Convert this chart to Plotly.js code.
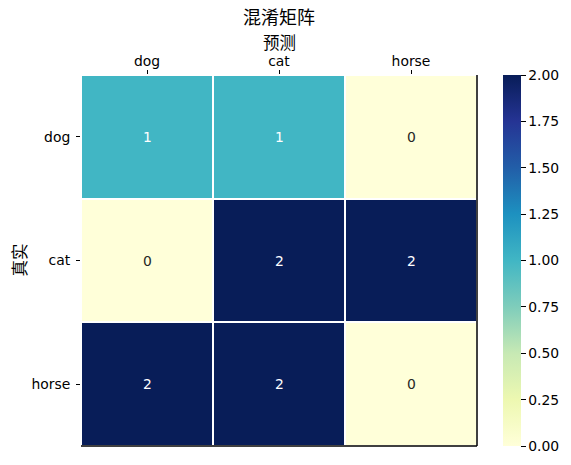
<!DOCTYPE html>
<html>
<head>
<meta charset="utf-8">
<script src="https://cdn.plot.ly/plotly-3.0.1.min.js"></script>
<style>html,body{margin:0;padding:0;background:#fff;}</style>
</head>
<body>
<div id="chart" style="width:571px;height:465px;"></div>
<script>
const predLabels = ['dog', 'cat', 'horse'];
const trueLabels = ['dog', 'cat', 'horse'];
const matrix = [
  [1, 1, 0],
  [0, 2, 2],
  [2, 2, 0]
];
const titleText = '混淆矩阵';
const xTitle = '预测';
const yTitle = '真实';

const ylgnbu = [
  [0.000, '#ffffd9'], [0.125, '#edf8b1'], [0.250, '#c7e9b4'],
  [0.375, '#7fcdbb'], [0.500, '#41b6c4'], [0.625, '#1d91c0'],
  [0.750, '#225ea8'], [0.875, '#253494'], [1.000, '#081d58']
];
const vmax = 2;

const annotations = [];
trueLabels.forEach((t, i) => {
  predLabels.forEach((p, j) => {
    const v = matrix[i][j];
    annotations.push({
      x: p, y: t, xref: 'x', yref: 'y', text: String(v), showarrow: false,
      font: {family: 'DejaVu Sans', size: 13.9, color: v / vmax > 0.4 ? '#ffffff' : '#262626'}
    });
  });
});
const cjkFont = {family: 'Noto Sans CJK SC', size: 16.5, color: '#000'};
annotations.push({
  text: xTitle, xref: 'paper', yref: 'paper', x: 0.5, y: 1,
  xanchor: 'center', yanchor: 'middle', yshift: 33, showarrow: false, font: cjkFont
});
annotations.push({
  text: yTitle, xref: 'paper', yref: 'paper', x: 0, y: 0.5,
  xanchor: 'center', yanchor: 'middle', xshift: -63, textangle: -90, showarrow: false, font: cjkFont
});

const trace = {
  type: 'heatmap',
  x: predLabels, y: trueLabels, z: matrix,
  zmin: 0, zmax: vmax,
  colorscale: ylgnbu,
  xgap: 2, ygap: 2,
  hoverinfo: 'none',
  colorbar: {
    x: 1.063, xanchor: 'left', xpad: 0, ypad: 0,
    y: 0.5, yanchor: 'middle', len: 1, lenmode: 'fraction',
    thickness: 18, thicknessmode: 'pixels',
    outlinewidth: 0,
    tick0: 0, dtick: 0.25, tickformat: '.2f',
    ticks: 'outside', ticklen: 5, tickwidth: 1, tickcolor: '#000',
    tickfont: {family: 'DejaVu Sans', size: 13.9, color: '#000'}
  }
};

const layout = {
  width: 571, height: 465,
  margin: {l: 81, r: 93, t: 75, b: 19},
  paper_bgcolor: '#fff', plot_bgcolor: '#fff',
  title: {
    text: titleText, x: 0.5, xref: 'paper', xanchor: 'center',
    y: 1 - 18 / 465, yref: 'container', yanchor: 'middle',
    font: {family: 'Noto Sans CJK SC', size: 18, color: '#000'}
  },
  xaxis: {
    side: 'top', type: 'category',
    ticks: 'outside', ticklen: 4, tickwidth: 1, tickcolor: '#000',
    ticklabelstandoff: -2,
    tickfont: {family: 'DejaVu Sans', size: 13.9, color: '#000'},
    showline: false, showgrid: false, zeroline: false
  },
  yaxis: {
    type: 'category', autorange: 'reversed',
    ticks: 'outside', ticklen: 4, tickwidth: 1, tickcolor: '#000',
    ticklabelstandoff: 3,
    tickfont: {family: 'DejaVu Sans', size: 13.9, color: '#000'},
    showline: false, showgrid: false, zeroline: false
  },
  shapes: [
    {type: 'line', xref: 'paper', yref: 'paper', x0: 0, x1: 1, y0: 0, y1: 0, line: {color: '#000', width: 1.5}},
    {type: 'line', xref: 'paper', yref: 'paper', x0: 1, x1: 1, y0: 0, y1: 1, line: {color: '#000', width: 1.5}}
  ],
  annotations: annotations
};

Plotly.newPlot('chart', [trace], layout, {displayModeBar: false, staticPlot: true});
</script>
</body>
</html>
